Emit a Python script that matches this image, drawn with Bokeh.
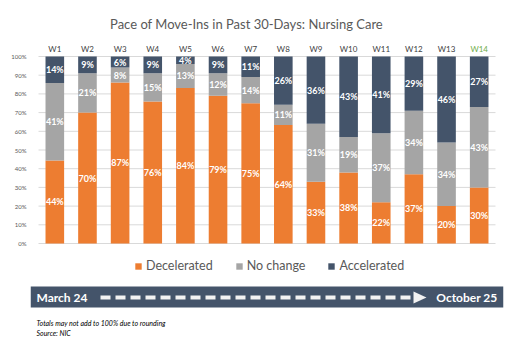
from bokeh.plotting import figure
from bokeh.models import (ColumnDataSource, FactorRange, Range1d, FixedTicker,
                          NumeralTickFormatter, Legend, LegendItem)
from bokeh.embed import file_html
from bokeh.resources import INLINE
from bokeh.core.properties import value

# ---------------- data ----------------
weeks = ["W1", "W2", "W3", "W4", "W5", "W6", "W7", "W8", "W9", "W10", "W11", "W12", "W13", "W14"]
decelerated = [44, 70, 87, 76, 84, 79, 75, 64, 33, 38, 22, 37, 20, 30]
no_change = [41, 21, 8, 15, 13, 12, 14, 11, 31, 19, 37, 34, 34, 43]
accelerated = [14, 9, 6, 9, 4, 9, 11, 26, 36, 43, 41, 29, 46, 27]
series_names = ["Decelerated", "No change", "Accelerated"]
y_ticks = [0, 10, 20, 30, 40, 50, 60, 70, 80, 90, 100]
title_text = "Pace of Move-Ins in Past 30-Days: Nursing Care"
period_start = "March 24"
period_end = "October 25"
footnotes = ["Totals may not add to 100% due to rounding", "Source: NIC"]
highlight_week = "W14"

# ---------------- styles / layout (pixels) ----------------
COLORS = ["#ED7D31", "#A5A5A5", "#44546A"]
FONT = "Lato"
GREY_TXT = "#595959"
W, H = 518, 353
FRAME_L, FRAME_R = 30, 503          # frame horizontal extent
CAT_L, CAT_R = 38, 495              # category band extent
Y0_PX, Y100_PX = 243, 56            # pixel rows of 0% and 100%

cat_w = (CAT_R - CAT_L) / len(weeks)
pad = (CAT_L - FRAME_L) / cat_w
span = Y0_PX - Y100_PX


def sx(px):
    """pixel column -> synthetic categorical coordinate"""
    return [(v - CAT_L) / cat_w for v in px]


series = [decelerated, no_change, accelerated]
keys = ["dec", "nc", "acc"]
totals = [sum(v) for v in zip(*series)]
src = {"weeks": weeks}
for k, s in zip(keys, series):
    src[k] = [v / t for v, t in zip(s, totals)]
source = ColumnDataSource(src)

lx, ly, lt = [], [], []
for i, w in enumerate(weeks):
    bottom = 0.0
    for k, s in zip(keys, series):
        share = src[k][i]
        lx.append(w)
        ly.append(bottom + share / 2)
        lt.append(f"{s[i]}%")
        bottom += share
label_src = ColumnDataSource(dict(x=lx, y=ly, t=lt))

p = figure(width=W, height=H,
           x_range=FactorRange(*weeks, range_padding=pad, range_padding_units="absolute"),
           y_range=Range1d(-(H - Y0_PX) / span, 1 + Y100_PX / span),
           output_backend="svg", toolbar_location=None, x_axis_location=None,
           min_border_left=FRAME_L, min_border_right=W - FRAME_R,
           min_border_top=0, min_border_bottom=0)
p.extra_y_ranges = {"px": Range1d(H, 0)}
p.outline_line_color = None
p.xgrid.visible = False
p.ygrid.visible = False

# grid lines at the y ticks, across the category band
tick_vals = [t / 100 for t in y_ticks]
n = len(tick_vals)
p.segment(x0=sx([CAT_L] * n), x1=sx([CAT_R] * n), y0=tick_vals, y1=tick_vals,
          line_color="#D9D9D9", line_width=1)

renderers = p.vbar_stack(keys, x="weeks", width=0.57, color=COLORS, line_color=None, source=source)

p.text(x="x", y="y", text="t", source=label_src, text_color="white",
       text_font=value(FONT), text_font_size="9px", text_font_style="bold",
       text_align="center", text_baseline="middle")

week_colors = ["#70AD47" if w == highlight_week else "#404040" for w in weeks]
p.text(x=weeks, y=[48] * len(weeks), y_range_name="px", text=weeks, text_color=week_colors,
       text_font=value(FONT), text_font_size="8px", text_align="center",
       text_baseline="middle")

p.yaxis.ticker = FixedTicker(ticks=tick_vals)
p.yaxis.formatter = NumeralTickFormatter(format="0%")
p.yaxis.axis_line_color = None
p.yaxis.major_tick_line_color = None
p.yaxis.minor_tick_line_color = None
p.yaxis.major_label_text_font_size = "6px"
p.yaxis.major_label_text_font = FONT
p.yaxis.major_label_text_color = GREY_TXT
p.yaxis.major_label_standoff = -2

# title
p.text(x=sx([246]), y=[23], text=[title_text], y_range_name="px",
       text_color=GREY_TXT, text_font=value(FONT), text_font_size="13px",
       text_align="center", text_baseline="middle")

# legend
legend = Legend(items=[LegendItem(label=nm, renderers=[r]) for nm, r in zip(series_names, renderers)],
                orientation="horizontal", location=(134 - FRAME_L, H - 266 - 7),
                glyph_width=8, glyph_height=8, label_standoff=4, spacing=22,
                padding=0, margin=0, border_line_color=None, background_fill_alpha=0,
                label_text_font=FONT, label_text_font_size="12.5px",
                label_text_color=GREY_TXT, label_height=14)
p.add_layout(legend)

# banner
p.quad(left=sx([30]), right=sx([503]), top=[286], bottom=[307], y_range_name="px",
       color="#44546A", line_color=None)
p.line(x=sx([100, 414]), y=[297, 297], y_range_name="px",
       line_color="#F2F2F2", line_width=4, line_dash="10 5")
p.patch(x=sx([413, 426, 413]), y=[291, 297, 303], y_range_name="px",
        color="#F2F2F2", line_color=None)
p.text(x=sx([36]), y=[297], text=[period_start], y_range_name="px",
       text_color="white", text_font=value(FONT), text_font_size="12px",
       text_font_style="bold", text_baseline="middle", text_align="left")
p.text(x=sx([497]), y=[297], text=[period_end], y_range_name="px",
       text_color="white", text_font=value(FONT), text_font_size="12px",
       text_font_style="bold", text_baseline="middle", text_align="right")
p.text(x=sx([36, 36]), y=[322, 332], text=footnotes, y_range_name="px",
       text_color="#000000", text_font=value(FONT), text_font_size="7px",
       text_font_style="italic", text_baseline="middle", text_align="left")

open("out.html", "w").write(file_html(p, INLINE))
